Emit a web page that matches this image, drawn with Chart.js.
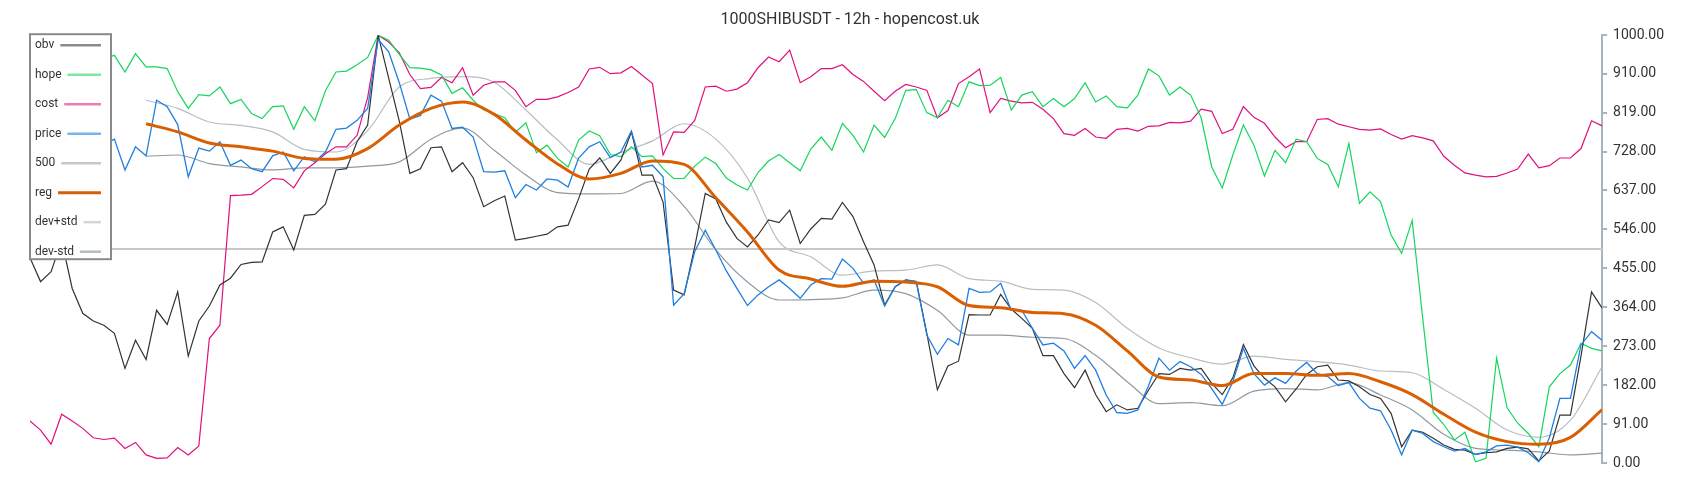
<!DOCTYPE html>
<html>
<head>
<meta charset="utf-8">
<script src="https://cdn.jsdelivr.net/npm/chart.js@4"></script>
<style>
  html, body { margin: 0; padding: 0; background: #fff; }
</style>
</head>
<body>
<canvas id="chart" width="1700" height="500"></canvas>
<script>
/* 150 samples across the whole width */
const obv = [
  480,424,447,520,408,350,332,322,303,221,
  287,242,357,324,400,250,332,367,416,432,
  464,469,470,540,552,498,579,581,605,685,
  688,751,790,1000,899,799,677,688,737,739,
  681,702,667,599,613,624,521,525,530,535,
  552,556,618,687,713,677,708,774,673,673,
  610,404,393,505,630,617,563,525,505,533,
  568,562,591,513,547,572,570,609,576,517,
  463,369,412,428,424,303,171,227,238,347,
  346,346,394,360,338,315,251,251,209,176,
  217,160,120,136,124,128,170,209,207,221,
  217,221,186,160,199,277,227,198,178,143,
  173,207,225,229,194,192,178,160,151,116,
  38,77,72,58,42,32,30,20,24,26,
  34,37,33,5,28,112,112,250,400,362
];
const hope = [
  940,955,930,950,935,960,945,945,953,914,
  957,926,926,922,868,829,861,858,879,840,
  850,817,805,833,835,780,833,800,870,914,
  916,931,948,1000,988,955,924,923,919,907,
  864,877,848,825,817,807,773,795,725,743,
  712,692,755,776,765,721,716,739,716,718,
  688,665,665,694,715,700,666,650,638,679,
  706,721,702,683,734,762,731,794,766,727,
  790,761,805,871,873,819,807,848,833,891,
  882,883,901,825,860,868,833,852,833,852,
  889,844,858,833,830,860,921,905,860,879,
  860,807,692,643,720,790,743,671,731,702,
  757,751,712,698,646,747,607,634,611,533,
  490,567,338,118,90,54,72,3,11,245,
  129,93,69,38,178,209,229,280,268,262
];
const cost = [
  98,77,44,114,98,81,59,55,58,34,
  48,19,11,12,36,19,40,291,322,625,
  626,628,646,665,663,643,683,702,723,739,
  739,766,854,1000,984,959,908,875,878,901,
  889,924,860,883,891,891,871,833,850,850,
  856,866,879,921,925,910,912,927,907,887,
  720,774,773,801,879,881,869,874,889,924,
  949,938,965,889,903,922,922,931,908,892,
  869,847,869,885,879,871,807,824,887,903,
  921,819,852,846,842,843,827,805,770,766,
  782,762,759,780,782,776,787,788,796,795,
  799,827,822,770,780,833,808,794,762,737,
  751,751,803,805,792,786,780,778,781,768,
  757,765,760,753,717,696,678,673,669,670,
  678,687,722,690,695,713,713,735,800,788
];
const price = [
  740,735,745,730,720,740,735,745,757,685,
  739,718,848,833,791,669,736,729,751,696,
  708,688,681,718,727,683,716,704,727,780,
  783,801,829,990,961,889,804,812,860,846,
  782,785,762,681,680,683,620,651,638,664,
  661,645,713,739,751,714,727,776,692,696,
  669,369,396,494,544,498,449,408,368,393,
  412,428,408,385,416,431,430,477,455,420,
  428,367,412,428,424,299,254,291,276,408,
  399,400,420,357,357,315,276,280,262,221,
  251,217,159,118,116,124,180,245,217,237,
  225,207,174,137,190,268,209,182,199,186,
  215,235,209,202,181,188,151,128,122,77,
  19,77,69,50,38,28,34,20,26,40,
  42,37,24,3,59,151,151,276,307,287
];
const level500 = [500, 500];

/* smoothed series: start at sample 11, one value every 3 samples */
const reg = [793,774,748,739,729,712,710,735,790,829,844,815,755,699,664,677,706,698,620,540,
  451,430,413,425,423,412,368,363,352,349,322,262,201,194,181,209,209,205,209,190,
  160,114,72,50,44,60,125];
const devPlus = [848,829,797,789,774,733,727,777,879,899,903,890,825,755,698,726,753,793,757,666,
  517,482,439,449,451,463,431,425,406,404,375,315,269,246,231,250,242,237,229,215,
  211,172,128,77,60,100,225];
const devMinus = [717,720,700,692,685,690,690,694,704,757,783,731,673,632,629,630,659,600,498,423,
  381,382,386,404,396,357,299,299,294,291,252,190,139,141,134,168,174,171,188,159,
  124,67,34,30,26,19,23];

const yTicks = [0, 91, 182, 273, 364, 455, 546, 637, 728, 819, 910, 1000];

function pts(arr, start, step) {
  return arr.map((v, i) => ({ x: start + i * step, y: v }));
}

/* legend box in the top left corner: label, then a line sample */
const boxLegend = {
  id: 'boxLegend',
  afterDatasetsDraw(chart) {
    const ctx = chart.ctx, a = chart.chartArea;
    const x0 = a.left, y0 = a.top - 1, w = 81, h = 225;
    ctx.save();
    ctx.fillStyle = '#fff';
    ctx.fillRect(x0, y0, w, h);
    ctx.strokeStyle = '#8a8a8a';
    ctx.lineWidth = 2;
    ctx.strokeRect(x0, y0, w, h);
    ctx.font = '12px Roboto';
    ctx.textBaseline = 'middle';
    chart.data.datasets.forEach((ds, i) => {
      const y = y0 + 11 + i * 29.5;
      ctx.fillStyle = '#333';
      ctx.fillText(ds.label, x0 + 5, y);
      const tw = ctx.measureText(ds.label).width;
      ctx.strokeStyle = ds.legendColor;
      ctx.lineWidth = ds.label === 'reg' ? 3 : 2.5;
      ctx.beginPath();
      ctx.moveTo(x0 + 5 + tw + 6, y);
      ctx.lineTo(x0 + w - 10, y);
      ctx.stroke();
    });
    ctx.restore();
  }
};

const smooth = { cubicInterpolationMode: 'monotone' };

new Chart(document.getElementById('chart'), {
  type: 'line',
  data: {
    datasets: [
      { label: 'obv', data: pts(obv, 0, 1), borderColor: '#333333', legendColor: '#8a8a8a', borderWidth: 1.2, order: 2 },
      { label: 'hope', data: pts(hope, 0, 1), borderColor: '#13d65c', legendColor: '#7fe6a4', borderWidth: 1.2, order: 3 },
      { label: 'cost', data: pts(cost, 0, 1), borderColor: '#e0107c', legendColor: '#ee7ab6', borderWidth: 1.2, order: 4 },
      { label: 'price', data: pts(price, 0, 1), borderColor: '#1f7fe0', legendColor: '#7ab4ec', borderWidth: 1.3, order: 1 },
      { label: '500', data: pts(level500, 0, 149), borderColor: '#c8c8c8', legendColor: '#c8c8c8', borderWidth: 2, order: 5 },
      { label: 'reg', data: pts(reg, 11, 3), borderColor: '#d95f02', legendColor: '#d06010', borderWidth: 3, order: 0, ...smooth },
      { label: 'dev+std', data: pts(devPlus, 11, 3), borderColor: '#b7bec4', legendColor: '#d2d7db', borderWidth: 1.2, order: 6, ...smooth },
      { label: 'dev-std', data: pts(devMinus, 11, 3), borderColor: '#8e9aa2', legendColor: '#b3bcc1', borderWidth: 1.2, order: 7, ...smooth }
    ]
  },
  options: {
    responsive: false,
    animation: false,
    devicePixelRatio: 1,
    layout: { padding: { left: 30, right: 30, top: 0, bottom: 37 } },
    elements: {
      line: { tension: 0, fill: false },
      point: { radius: 0 }
    },
    plugins: {
      legend: { display: false },
      tooltip: { enabled: false },
      title: {
        display: true,
        text: '1000SHIBUSDT - 12h - hopencost.uk',
        color: '#333',
        font: { family: 'Roboto', size: 16, weight: 'normal' },
        padding: { top: 10, bottom: 6 }
      }
    },
    scales: {
      x: { type: 'linear', min: 0, max: 149, display: false },
      y: {
        position: 'right',
        min: 0,
        max: 1000,
        afterBuildTicks: s => { s.ticks = yTicks.map(v => ({ value: v })); },
        ticks: {
          autoSkip: false,
          color: '#333',
          padding: 6,
          font: { family: 'Roboto', size: 14 },
          callback: v => Number(v).toFixed(2)
        },
        grid: { drawOnChartArea: false, tickLength: 5, color: '#aab4bc', lineWidth: 2 },
        border: { color: '#aab4bc', width: 2 }
      }
    }
  },
  plugins: [boxLegend]
});
</script>
</body>
</html>
